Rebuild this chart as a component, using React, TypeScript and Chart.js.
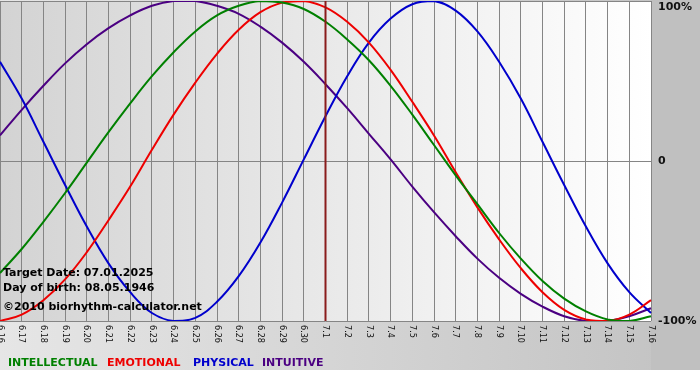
import React, { useEffect, useRef } from "react";
import { Chart, registerables } from "chart.js";

Chart.register(...registerables);

// ---- data ----
const days = [
  "6.16", "6.17", "6.18", "6.19", "6.20", "6.21", "6.22", "6.23", "6.24", "6.25",
  "6.26", "6.27", "6.28", "6.29", "6.30", "7.1", "7.2", "7.3", "7.4", "7.5",
  "7.6", "7.7", "7.8", "7.9", "7.10", "7.11", "7.12", "7.13", "7.14", "7.15", "7.16",
];
const intellectual = [
  -0.70, -0.55, -0.38, -0.20, -0.01, 0.18, 0.36, 0.53, 0.68, 0.81,
  0.91, 0.97, 1.00, 0.99, 0.95, 0.87, 0.76, 0.63, 0.47, 0.29,
  0.10, -0.09, -0.27, -0.45, -0.61, -0.75, -0.86, -0.94, -0.99, -1.00, -0.97,
];
const emotional = [
  -1.00, -0.96, -0.87, -0.74, -0.57, -0.37, -0.16, 0.07, 0.29, 0.49,
  0.67, 0.82, 0.93, 0.99, 1.00, 0.96, 0.87, 0.74, 0.57, 0.37,
  0.16, -0.07, -0.29, -0.49, -0.67, -0.82, -0.93, -0.99, -1.00, -0.96, -0.87,
];
const physical = [
  0.62, 0.39, 0.12, -0.15, -0.41, -0.64, -0.82, -0.95, -1.00, -0.98,
  -0.88, -0.72, -0.51, -0.26, 0.01, 0.28, 0.53, 0.74, 0.89, 0.98,
  1.00, 0.94, 0.81, 0.62, 0.39, 0.12, -0.15, -0.41, -0.64, -0.82, -0.95,
];
const intuitive = [
  0.16, 0.32, 0.47, 0.61, 0.73, 0.83, 0.91, 0.97, 1.00, 1.00,
  0.97, 0.92, 0.84, 0.74, 0.62, 0.48, 0.33, 0.17, 0.01, -0.16,
  -0.32, -0.47, -0.61, -0.73, -0.83, -0.91, -0.97, -1.00, -1.00, -0.97, -0.92,
];
const seriesNames = ["INTELLECTUAL", "EMOTIONAL", "PHYSICAL", "INTUITIVE"];
const targetDay = "7.1";
const yTickValues = [1, 0, -1];
const yTickLabels = ["100%", "0", "-100%"];
const infoLines = [
  "Target Date: 07.01.2025",
  "Day of birth: 08.05.1946",
  "\u00A92010 biorhythm-calculator.net",
];

// ---- styles ----
const colors = ["#008000", "#ee0000", "#0000cc", "#4b0082"];
const legendX = [8, 107, 193, 262];
const infoY = [276, 291, 310];

const decoPlugin = {
  id: "deco",
  beforeDraw(chart: any) {
    const { ctx, chartArea: a, width, height } = chart;
    ctx.save();
    ctx.fillStyle = "#ffffff";
    ctx.fillRect(0, 0, width, height);
    const g = ctx.createLinearGradient(0, 0, width, 0);
    g.addColorStop(0, "#e6e6e6");
    g.addColorStop(1, "#c2c2c2");
    ctx.fillStyle = g;
    ctx.fillRect(0, 0, width, 370);
    ctx.fillStyle = "#c0c0c0";
    ctx.fillRect(a.right, 0, width - a.right, 370);
    const pg = ctx.createLinearGradient(a.left, 0, a.right, 0);
    pg.addColorStop(0, "#d3d3d3");
    pg.addColorStop(0.93, "#fcfcfc");
    pg.addColorStop(1, "#ffffff");
    ctx.fillStyle = pg;
    ctx.fillRect(a.left, a.top, a.right - a.left, a.bottom - a.top);
    ctx.restore();
  },
  afterDatasetsDraw(chart: any) {
    const { ctx, chartArea: a } = chart;
    const x = chart.scales.x.getPixelForValue(days.indexOf(targetDay));
    ctx.save();
    ctx.strokeStyle = "#8a1c1c";
    ctx.lineWidth = 2;
    ctx.beginPath();
    ctx.moveTo(x, a.top);
    ctx.lineTo(x, a.bottom);
    ctx.stroke();
    ctx.restore();
  },
  afterDraw(chart: any) {
    const { ctx, chartArea: a } = chart;
    const xs = chart.scales.x;
    const ys = chart.scales.y;
    ctx.save();
    // x tick labels, rotated clockwise
    ctx.fillStyle = "#111";
    ctx.font = "9px 'DejaVu Sans Condensed', 'DejaVu Sans', sans-serif";
    ctx.textAlign = "left";
    ctx.textBaseline = "middle";
    days.forEach((d, i) => {
      const x = xs.getPixelForValue(i);
      ctx.save();
      ctx.translate(x, a.bottom + 4);
      ctx.rotate(Math.PI / 2);
      ctx.fillText(d, 0, 0);
      ctx.restore();
    });
    // y labels on right panel
    ctx.font = "bold 11px 'DejaVu Sans', Verdana, sans-serif";
    ctx.fillStyle = "#111";
    yTickValues.forEach((v, i) => {
      let y = ys.getPixelForValue(v);
      if (i === 0) y = Math.max(y, a.top + 6);
      ctx.fillText(yTickLabels[i], a.right + 7, y);
    });
    // info lines
    ctx.textBaseline = "alphabetic";
    ctx.fillStyle = "#000";
    infoLines.forEach((t, i) => ctx.fillText(t, 3, infoY[i]));
    // legend
    seriesNames.forEach((n, i) => {
      ctx.fillStyle = colors[i];
      ctx.fillText(n, legendX[i], 366);
    });
    ctx.restore();
  },
};

export default function App() {
  const ref = useRef<HTMLCanvasElement | null>(null);
  useEffect(() => {
    document.body.style.margin = "0";
    const series = [intellectual, emotional, physical, intuitive];
    const chart = new Chart(ref.current as HTMLCanvasElement, {
      type: "line",
      data: {
        labels: days,
        datasets: series.map((s, i) => ({
          label: seriesNames[i],
          data: s,
          borderColor: colors[i],
          backgroundColor: colors[i],
          borderWidth: 2,
          pointRadius: 0,
          tension: 0.4,
          fill: false,
        })),
      },
      options: {
        animation: false,
        responsive: false,
        maintainAspectRatio: false,
        layout: { padding: { left: 0, right: 49, top: 1, bottom: 59 } },
        plugins: { legend: { display: false }, tooltip: { enabled: false } },
        scales: {
          x: {
            offset: false,
            ticks: { display: false },
            grid: { color: "#858585", lineWidth: 1, drawTicks: false },
            border: { display: false },
          },
          y: {
            position: "right",
            min: -1,
            max: 1,
            ticks: { display: false, stepSize: 1 },
            grid: { color: "#858585", lineWidth: 1, drawTicks: false },
            border: { display: false },
          },
        },
      },
      plugins: [decoPlugin],
    });
    return () => chart.destroy();
  }, []);
  return (
    <div style={{ position: "absolute", left: 0, top: 0 }}>
      <canvas ref={ref} width={700} height={380} style={{ display: "block" }} />
    </div>
  );
}
